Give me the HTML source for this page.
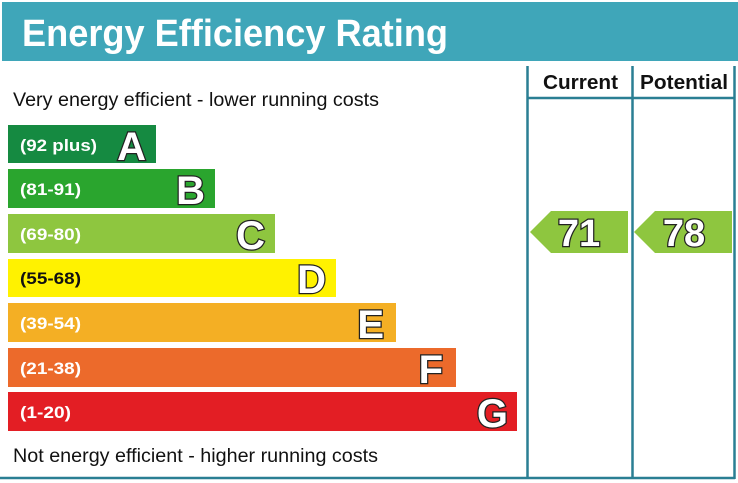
<!DOCTYPE html>
<html><head><style>body{margin:0;background:#fff}svg{display:block}</style></head><body>
<svg width="738" height="483" viewBox="0 0 738 483" xmlns="http://www.w3.org/2000/svg" font-family="Liberation Sans, sans-serif">
<rect x="2" y="2" width="736" height="59" fill="#3fa6b9"/>
<text x="22" y="46" font-size="38" font-weight="bold" fill="#fff" textLength="426" lengthAdjust="spacingAndGlyphs">Energy Efficiency Rating</text>
<g stroke="#2a7f93" stroke-width="2.5" fill="none">
<line x1="527.5" y1="66" x2="527.5" y2="479"/>
<line x1="632.5" y1="66" x2="632.5" y2="479"/>
<line x1="734.5" y1="66" x2="734.5" y2="479"/>
<line x1="527" y1="98" x2="735" y2="98"/>
<line x1="0" y1="478" x2="735" y2="478"/>
</g>
<text x="543" y="89" font-size="20" font-weight="bold" fill="#111" textLength="75" lengthAdjust="spacingAndGlyphs">Current</text>
<text x="640" y="89" font-size="20" font-weight="bold" fill="#111" textLength="88" lengthAdjust="spacingAndGlyphs">Potential</text>
<text x="13" y="106" font-size="19" fill="#111" textLength="366" lengthAdjust="spacingAndGlyphs">Very energy efficient - lower running costs</text>
<text x="13" y="462" font-size="19" fill="#111" textLength="365" lengthAdjust="spacingAndGlyphs">Not energy efficient - higher running costs</text>
<g font-weight="bold">
<rect x="8" y="125" width="148" height="38" fill="#158a41"/>
<rect x="8" y="169" width="207" height="39" fill="#2aa52e"/>
<rect x="8" y="214" width="267" height="39" fill="#8ec63f"/>
<rect x="8" y="259" width="328" height="38" fill="#fff200"/>
<rect x="8" y="303" width="388" height="39" fill="#f4af24"/>
<rect x="8" y="348" width="448" height="39" fill="#ec6a2b"/>
<rect x="8" y="392" width="509" height="39" fill="#e31e24"/>
<g font-size="17" fill="#fff">
<text x="20" y="151" textLength="77" lengthAdjust="spacingAndGlyphs">(92 plus)</text>
<text x="20" y="195" textLength="61" lengthAdjust="spacingAndGlyphs">(81-91)</text>
<text x="20" y="240" textLength="61" lengthAdjust="spacingAndGlyphs">(69-80)</text>
<text x="20" y="284" fill="#111" textLength="61" lengthAdjust="spacingAndGlyphs">(55-68)</text>
<text x="20" y="329" textLength="61" lengthAdjust="spacingAndGlyphs">(39-54)</text>
<text x="20" y="374" textLength="61" lengthAdjust="spacingAndGlyphs">(21-38)</text>
<text x="20" y="418" textLength="51" lengthAdjust="spacingAndGlyphs">(1-20)</text>
</g>
<g font-size="40" fill="#fff" stroke="#222" stroke-width="2.5" paint-order="stroke" text-anchor="end">
<text x="146" y="160" paint-order="stroke">A</text>
<text x="205" y="204" paint-order="stroke">B</text>
<text x="265" y="249" paint-order="stroke">C</text>
<text x="326" y="293" paint-order="stroke">D</text>
<text x="384" y="338" paint-order="stroke">E</text>
<text x="443" y="383" paint-order="stroke">F</text>
<text x="508" y="427" paint-order="stroke">G</text>
</g>
<polygon points="530,232 551,211 628,211 628,253 551,253" fill="#8ec63f"/>
<polygon points="634,232 655,211 732,211 732,253 655,253" fill="#8ec63f"/>
<g font-size="38" fill="#fff" stroke="#222" stroke-width="2.5" text-anchor="middle">
<text x="579" y="246" paint-order="stroke">71</text>
<text x="684" y="246" paint-order="stroke">78</text>
</g>
</g>
</svg>
</body></html>
